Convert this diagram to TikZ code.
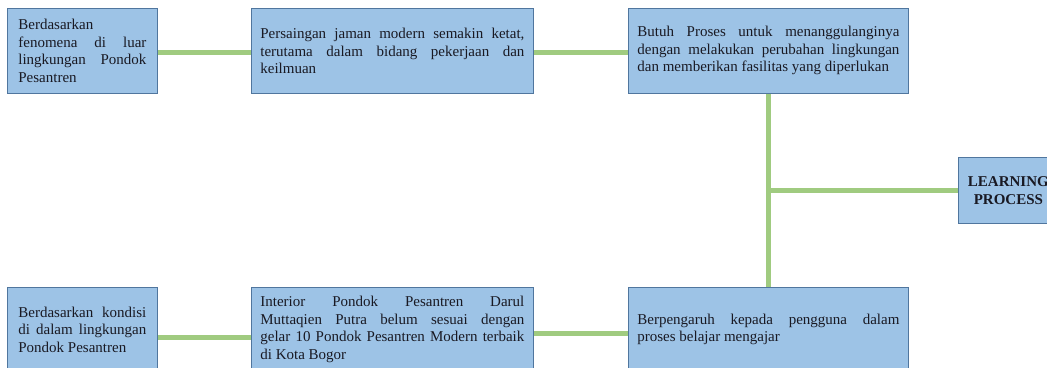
\documentclass[tikz,border=0pt]{standalone}
\usepackage{fontspec}
\setmainfont{Liberation Serif}
\definecolor{boxfill}{RGB}{157,195,230}
\definecolor{boxline}{RGB}{80,118,158}
\definecolor{linkgreen}{RGB}{160,203,128}
\definecolor{txt}{RGB}{25,25,35}
\tikzset{
  box/.style={draw=boxline, line width=0.8pt, fill=boxfill, text=txt,
    font=\fontsize{15}{17.5}\selectfont, align=justify, inner ysep=0pt,
    anchor=north west},
  link/.style={draw=linkgreen, line width=5pt}
}
\begin{document}
\begin{tikzpicture}[x=1pt,y=1pt]
\useasboundingbox (0,0) rectangle (1047,367);
\clip (0,0) rectangle (1047,367);
\fill[white] (0,0) rectangle (1047,367);
% top row (image y 8..93)
\node[box, minimum height=85pt, text width=128pt, inner xsep=11pt] (A) at (7,359)
 {Berdasarkan\newline fenomena di luar\linebreak lingkungan Pondok\linebreak Pesantren};
\node[box, minimum height=85pt, text width=264pt, inner xsep=9pt] (B) at (251,359)
 {Persaingan jaman modern semakin ketat,\linebreak terutama dalam bidang pekerjaan dan\linebreak keilmuan};
\node[box, minimum height=85pt, text width=262pt, inner xsep=9pt] (C) at (628,359)
 {Butuh Proses untuk menanggulanginya\linebreak dengan melakukan perubahan lingkungan\linebreak dan memberikan fasilitas yang diperlukan};
% learning process (image y 157..223)
\node[box, minimum height=66pt, minimum width=100pt, text width=82pt, inner xsep=9pt, align=center, font=\fontsize{15}{17.5}\selectfont\bfseries] (D) at (958,210)
 {LEARNING\\PROCESS};
% bottom row (image y 287..)
\node[box, minimum height=84pt, text width=128pt, inner xsep=11pt] (E) at (7,80)
 {Berdasarkan kondisi\linebreak di dalam lingkungan\linebreak Pondok Pesantren};
\node[box, minimum height=84pt, text width=264pt, inner xsep=9pt] (F) at (251,80)
 {Interior Pondok Pesantren Darul\linebreak Muttaqien Putra belum sesuai dengan\linebreak gelar 10 Pondok Pesantren Modern terbaik\linebreak di Kota Bogor};
\node[box, minimum height=84pt, text width=262pt, inner xsep=9pt] (G) at (628,80)
 {Berpengaruh kepada pengguna dalam\linebreak proses belajar mengajar};
% connectors
\draw[link] ([yshift=-1.5pt]A.east) -- ([yshift=-1.5pt]B.west);
\draw[link] ([yshift=-1.5pt]B.east) -- ([yshift=-1.5pt]C.west);
\draw[link] (C.south) -- (G.north);
\draw[link] (C.south |- D.west) -- (D.west);
\draw[link] ([yshift=-8pt]E.east) -- ([yshift=-8pt]F.west);
\draw[link] ([yshift=-4pt]F.east) -- ([yshift=-4pt]G.west);
\end{tikzpicture}
\end{document}
